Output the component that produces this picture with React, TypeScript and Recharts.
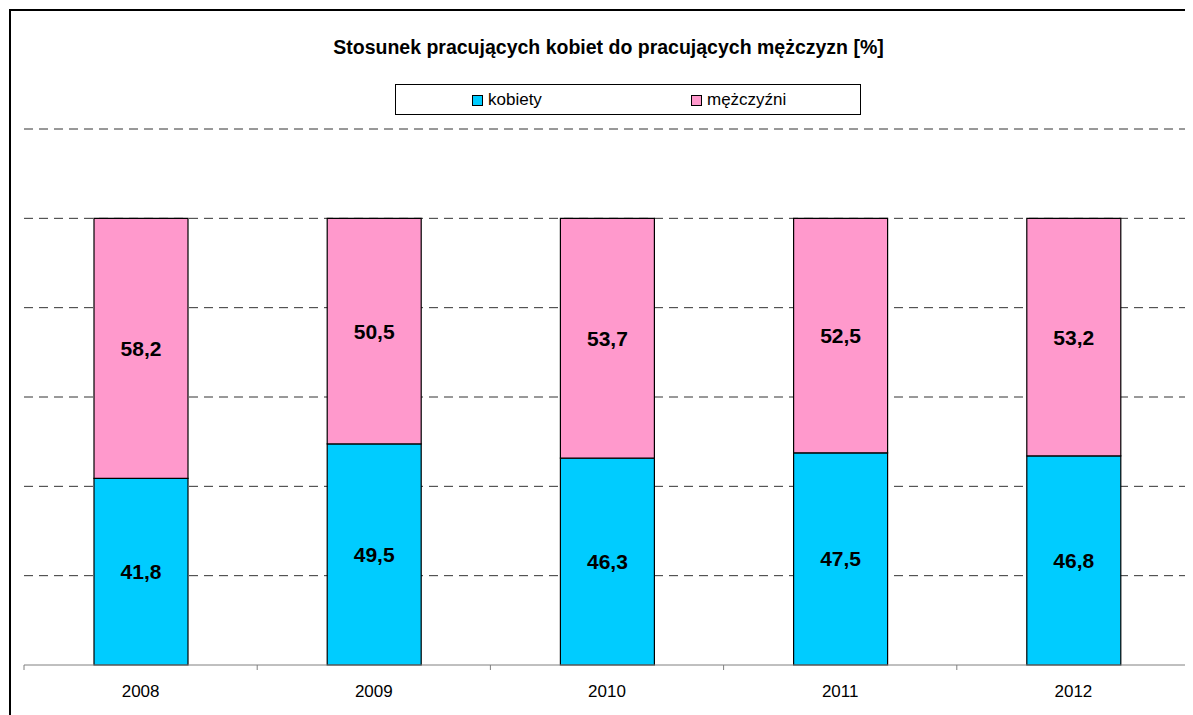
import { BarChart, Bar, XAxis, YAxis, CartesianGrid, LabelList } from 'recharts'

// Lata i udział pracujących (w %)
const years = ['2008', '2009', '2010', '2011', '2012']
const kobiety = [41.8, 49.5, 46.3, 47.5, 46.8]
const mezczyzni = [58.2, 50.5, 53.7, 52.5, 53.2]
const yTicks = [0, 20, 40, 60, 80, 100, 120]
const gridValues = [20, 40, 60, 80, 100, 120]

const series = [
  { key: 'kobiety', name: 'kobiety', color: '#00CCFF' },
  { key: 'mezczyzni', name: 'mężczyźni', color: '#FF99CC' },
]

const data = years.map((year, i) => ({
  year,
  kobiety: kobiety[i],
  mezczyzni: mezczyzni[i],
}))

const CHART_W = 1185
const CHART_H = 707
const MARGIN = { top: 121, right: 3, left: 16, bottom: 0 }
const AXIS_Y = 657
const BAND = (CHART_W - MARGIN.left - MARGIN.right) / years.length
const FONT = '"Liberation Sans", Arial, sans-serif'

const formatPl = (v: number) => String(v).replace('.', ',')

function YearTick(props: any) {
  const { x, payload, index } = props
  const half = BAND / 2
  return (
    <g>
      <line x1={x - half} x2={x - half} y1={AXIS_Y} y2={AXIS_Y + 5} stroke="#808080" />
      {index === years.length - 1 && (
        <line x1={x + half} x2={x + half} y1={AXIS_Y} y2={AXIS_Y + 5} stroke="#808080" />
      )}
      <text x={x} y={AXIS_Y + 32} textAnchor="middle" fontSize={17} fontFamily={FONT} fill="#000">
        {payload.value}
      </text>
    </g>
  )
}

export default function App() {
  return (
    <div style={{ position: 'relative', width: CHART_W, height: CHART_H, overflow: 'hidden', fontFamily: FONT }}>
      <div
        style={{
          position: 'absolute',
          left: 1,
          top: 1,
          width: 1240,
          height: 760,
          border: '2px solid #000',
          boxSizing: 'border-box',
        }}
      />
      <div
        style={{
          position: 'absolute',
          left: 0,
          width: 1201,
          top: 27,
          textAlign: 'center',
          fontWeight: 'bold',
          fontSize: 19.5,
          lineHeight: '24px',
          color: '#000',
        }}
      >
        Stosunek pracujących kobiet do pracujących mężczyzn [%]
      </div>
      <div
        style={{
          position: 'absolute',
          left: 387,
          top: 76,
          width: 466,
          height: 31,
          border: '1px solid #000',
          boxSizing: 'border-box',
          background: '#fff',
          zIndex: 2,
        }}
      >
        {series.map((s, i) => (
          <div
            key={s.key}
            style={{
              position: 'absolute',
              left: i === 0 ? 76 : 295,
              top: 4,
              display: 'flex',
              alignItems: 'center',
              fontSize: 17,
              lineHeight: '22px',
            }}
          >
            <span
              style={{
                display: 'inline-block',
                width: 9,
                height: 9,
                background: s.color,
                border: '1px solid #000',
                marginRight: 5,
              }}
            />
            {s.name}
          </div>
        ))}
      </div>
      <div style={{ position: 'absolute', left: 0, top: 0 }}>
        <BarChart width={CHART_W} height={CHART_H} data={data} margin={MARGIN} barSize={94}>
          <CartesianGrid
            vertical={false}
            horizontalValues={gridValues}
            stroke="#333333"
            strokeDasharray="9 6"
          />
          <XAxis
            dataKey="year"
            height={50}
            stroke="#808080"
            tickLine={false}
            tick={<YearTick />}
            interval={0}
          />
          <YAxis hide domain={[0, 120]} ticks={yTicks} />
          {series.map((s) => (
            <Bar
              key={s.key}
              dataKey={s.key}
              name={s.name}
              stackId="a"
              fill={s.color}
              stroke="#000"
              strokeWidth={1.2}
              isAnimationActive={false}
            >
              <LabelList
                dataKey={s.key}
                position="center"
                formatter={(v: any) => formatPl(v)}
                fill="#000"
                fontSize={21}
                fontWeight="bold"
                fontFamily={FONT}
              />
            </Bar>
          ))}
        </BarChart>
      </div>
    </div>
  )
}
